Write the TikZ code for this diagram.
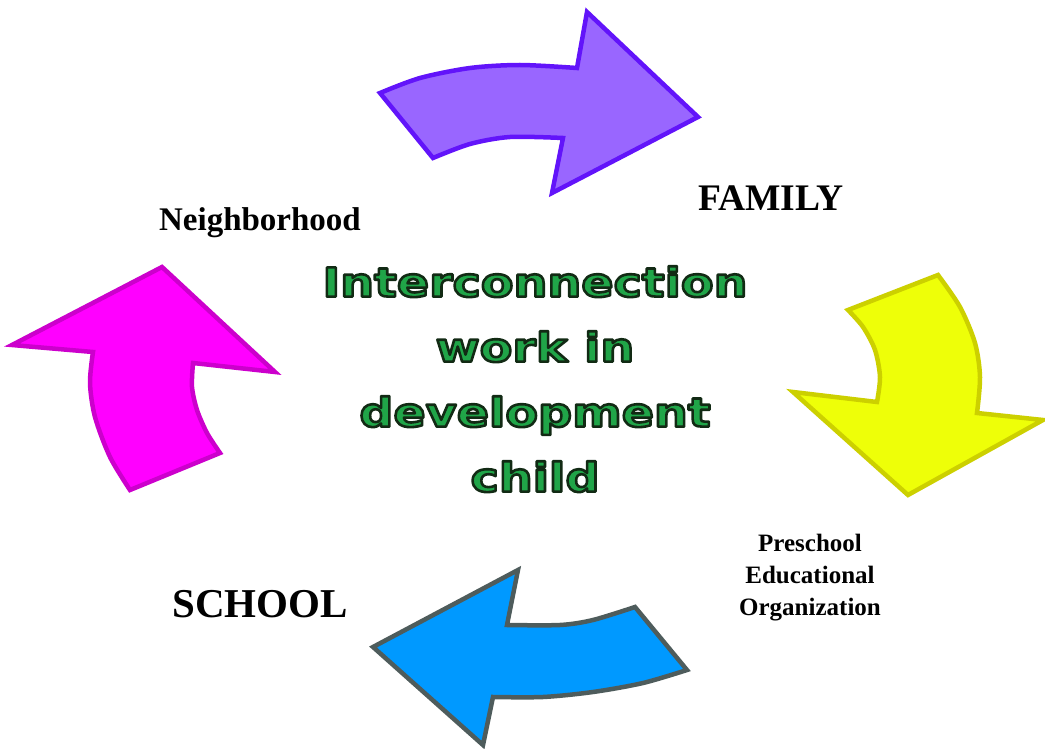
\documentclass[tikz,border=0pt]{standalone}
\usepackage{fontspec}
\setmainfont{Liberation Serif}
\newfontfamily\heavyfont{DejaVu Sans}[FakeStretch=1.19]

\definecolor{violetfill}{RGB}{153,102,255}
\definecolor{violetline}{RGB}{98,20,250}
\definecolor{lemonfill}{RGB}{238,255,8}
\definecolor{lemonline}{RGB}{204,208,0}
\definecolor{skyfill}{RGB}{0,153,255}
\definecolor{skyline}{RGB}{78,92,92}
\definecolor{pinkfill}{RGB}{255,0,255}
\definecolor{pinkline}{RGB}{204,0,204}
\definecolor{leafgreen}{RGB}{32,165,72}

% filled letters with a dark green stroke round each glyph
\newcommand{\outlined}[1]{%
  \special{pdf:literal direct 2 Tr 2.6 w 1 j 0.07 0.165 0.08 RG}#1%
  \special{pdf:literal direct 0 Tr}}

\tikzset{
  bentarrow/.style={line width=4.5pt, line join=miter},
  label/.style={font=\bfseries, inner sep=0pt, anchor=base},
  theme/.style={font=\heavyfont\bfseries\fontsize{40}{65}\selectfont,
    text=leafgreen, align=center, inner sep=0pt, anchor=north}
}

\begin{document}
\begin{tikzpicture}[x=1pt,y=-1pt]
  \useasboundingbox (0,0) rectangle (1045,749);

  % top arrow, pointing right
  \draw[bentarrow, draw=violetline, fill=violetfill]
    (380,93) -- (433,158)
    -- plot[smooth] coordinates {(433,158) (470,144) (510,137) (563,138)}
    -- (552,193) -- (698,117) -- (587,12) -- (577,68)
    -- plot[smooth] coordinates {(577,68) (520,65) (470,68) (420,78) (380,93)}
    -- cycle;

  % right arrow, pointing down
  \draw[bentarrow, draw=lemonline, fill=lemonfill]
    (848,310) -- (938,275)
    -- plot[smooth] coordinates {(938,275) (960,307) (975,343) (980,377) (977,413)}
    -- (1043,420) -- (908,495) -- (793,392) -- (877,402)
    -- plot[smooth] coordinates {(877,402) (880,377) (875,350) (863,327) (848,310)}
    -- cycle;

  % bottom arrow, pointing left
  \draw[bentarrow, draw=skyline, fill=skyfill]
    (518,570) -- (507,625)
    -- plot[smooth] coordinates {(507,625) (560,625) (593,620) (635,607)}
    -- (687,670)
    -- plot[smooth] coordinates {(687,670) (643,683) (593,692) (543,697) (493,697)}
    -- (483,745) -- (373,647) -- cycle;

  % left arrow, pointing up
  \draw[bentarrow, draw=pinkline, fill=pinkfill]
    (162,267) -- (275,372) -- (193,363)
    -- plot[smooth] coordinates {(193,363) (192,387) (197,410) (207,433) (220,453)}
    -- (130,490)
    -- plot[smooth] coordinates {(130,490) (110,457) (95,417) (90,383) (93,352)}
    -- (12,345) -- cycle;

  % labels
  \node[label, font=\bfseries\fontsize{37.5}{42}\selectfont] (family) at (771,211) {FAMILY};
  \node[label, font=\bfseries\fontsize{33}{38}\selectfont] (neigh) at (260,230) {Neighborhood};
  \node[label, font=\bfseries\fontsize{41}{46}\selectfont] (school) at (260,617) {SCHOOL};
  \node[font=\bfseries\fontsize{25}{32}\selectfont, align=center, inner sep=0pt, anchor=north]
    (preschool) at (810,534) {Preschool\\Educational\\Organization};

  % central theme
  \node[theme] (theme) at (535,266)
    {\outlined{Interconnection}\\
     \outlined{work in}\\
     \outlined{development}\\
     \outlined{child}};
\end{tikzpicture}
\end{document}
